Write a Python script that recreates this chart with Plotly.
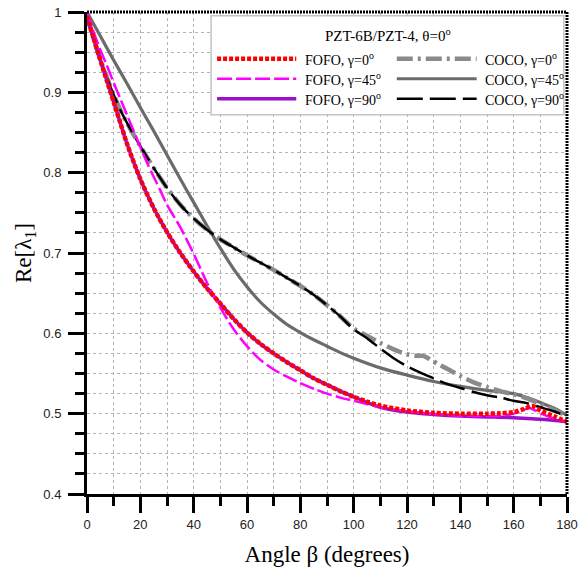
import plotly.graph_objects as go

# ---------------- data ----------------
fofo0_beta = [0, 2.5, 5, 7.5, 10, 12.5, 15, 20, 25, 30, 35, 40, 45, 50, 55, 60, 65, 70, 75, 80,
              85, 90, 95, 100, 105, 110, 120, 130, 140, 150, 155, 160, 164, 167, 170, 175, 180]
fofo0_val = [0.995, 0.967, 0.940, 0.914, 0.888, 0.862, 0.836, 0.792, 0.756, 0.726, 0.700, 0.677,
             0.656, 0.637, 0.618, 0.601, 0.587, 0.575, 0.564, 0.554, 0.544, 0.536, 0.528, 0.521, 0.515,
             0.510, 0.504, 0.501, 0.500, 0.500, 0.5005, 0.502, 0.506, 0.5095, 0.504, 0.497, 0.490]

fofo45_beta = [0, 2.5, 5, 7.5, 10, 12.5, 15, 17.5, 20, 22.5, 25, 27.5, 30, 35, 40, 45, 50, 55, 60, 65,
               70, 75, 80, 85, 90, 95, 100, 110, 120, 130, 140, 150, 157, 161, 164, 166, 168, 171, 175, 180]
fofo45_val = [1.0, 0.975, 0.953, 0.933, 0.912, 0.892, 0.872, 0.852, 0.832, 0.8125, 0.795, 0.778, 0.760,
              0.732, 0.699, 0.663, 0.632, 0.605, 0.584, 0.567, 0.555, 0.546, 0.538, 0.531, 0.525, 0.520,
              0.516, 0.508, 0.503, 0.4995, 0.4975, 0.497, 0.498, 0.501, 0.505, 0.507, 0.504, 0.499, 0.494, 0.490]

fofo90_beta = [0, 2.5, 5, 7.5, 10, 12.5, 15, 20, 25, 30, 35, 40, 45, 50, 55, 60, 65, 70, 75, 80,
               85, 90, 95, 100, 105, 110, 120, 130, 140, 150, 160, 170, 180]
fofo90_val = [0.995, 0.967, 0.940, 0.914, 0.888, 0.862, 0.836, 0.792, 0.756, 0.726, 0.700, 0.677,
              0.656, 0.637, 0.618, 0.601, 0.587, 0.575, 0.564, 0.554, 0.544, 0.536, 0.528, 0.521, 0.514,
              0.508, 0.502, 0.499, 0.497, 0.496, 0.495, 0.493, 0.490]

coco0_beta = [0, 2.5, 5, 7.5, 10, 12.5, 15, 20, 25, 30, 35, 40, 45, 50, 55, 60, 65, 70, 75, 80, 85, 90,
              95, 100, 105, 110, 115, 120, 123, 126, 129, 132, 135, 140, 145, 150, 155, 160, 165, 170, 175, 180]
coco0_val = [0.995, 0.966, 0.941, 0.918, 0.897, 0.878, 0.862, 0.833, 0.806, 0.781, 0.760, 0.743, 0.729,
             0.717, 0.707, 0.697, 0.688, 0.679, 0.669, 0.659, 0.648, 0.635, 0.621, 0.606, 0.597, 0.588,
             0.580, 0.574, 0.572, 0.572, 0.567, 0.561, 0.556, 0.547, 0.539, 0.533, 0.528, 0.524, 0.519,
             0.512, 0.505, 0.497]

coco45_beta = [0, 5, 10, 15, 20, 25, 30, 35, 40, 45, 50, 55, 60, 65, 70, 75, 80, 85, 90, 95, 100, 110,
               120, 130, 140, 150, 155, 160, 165, 170, 175, 180]
coco45_val = [1.0, 0.970, 0.940, 0.911, 0.881, 0.852, 0.822, 0.792, 0.763, 0.734, 0.706, 0.680, 0.658,
              0.639, 0.624, 0.611, 0.601, 0.592, 0.584, 0.576, 0.569, 0.557, 0.548, 0.540, 0.534, 0.529,
              0.527, 0.525, 0.520, 0.514, 0.507, 0.498]

coco90_beta = [0, 2.5, 5, 7.5, 10, 12.5, 15, 20, 25, 30, 35, 40, 45, 50, 55, 60, 65, 70, 75, 80, 85, 90,
               95, 100, 105, 110, 115, 120, 125, 130, 135, 140, 145, 150, 155, 160, 165, 170, 175, 180]
coco90_val = [0.995, 0.966, 0.941, 0.918, 0.897, 0.878, 0.862, 0.833, 0.806, 0.781, 0.760, 0.743, 0.729,
              0.717, 0.707, 0.697, 0.688, 0.679, 0.669, 0.659, 0.648, 0.635, 0.621, 0.605, 0.594, 0.581,
              0.569, 0.559, 0.551, 0.544, 0.537, 0.532, 0.527, 0.523, 0.520, 0.516, 0.513, 0.508, 0.503, 0.497]

legend_title = "PZT-6B/PZT-4, θ=0<sup>o</sup>"
series_names = ["FOFO, γ=0<sup>o</sup>", "FOFO, γ=45<sup>o</sup>", "FOFO, γ=90<sup>o</sup>",
                "COCO, γ=0<sup>o</sup>", "COCO, γ=45<sup>o</sup>", "COCO, γ=90<sup>o</sup>"]

x_title = "Angle β (degrees)"
y_title = "Re[λ<sub>1</sub>]"

# ---------------- styles ----------------
styles = {
    "fofo0": dict(color="#ff0000", width=4.5, dash="4px,2px"),
    "fofo45": dict(color="#ff00ff", width=2.5, dash="15px,4px"),
    "fofo90": dict(color="#9a10c8", width=3.5, dash="solid"),
    "coco0": dict(color="#8a8a8a", width=4.5, dash="16px,5px,3px,5px"),
    "coco45": dict(color="#6b6b6b", width=3.2, dash="solid"),
    "coco90": dict(color="#000000", width=2.5, dash="26px,7px"),
}

series = [
    ("coco45", coco45_beta, coco45_val, series_names[4]),
    ("coco0", coco0_beta, coco0_val, series_names[3]),
    ("coco90", coco90_beta, coco90_val, series_names[5]),
    ("fofo90", fofo90_beta, fofo90_val, series_names[2]),
    ("fofo45", fofo45_beta, fofo45_val, series_names[1]),
    ("fofo0", fofo0_beta, fofo0_val, series_names[0]),
]

fig = go.Figure()
for key, bx, by, name in series:
    fig.add_trace(go.Scatter(x=bx, y=by, mode="lines", name=name,
                             line=dict(**styles[key], shape="spline", smoothing=0.8),
                             showlegend=False))

serif = "Liberation Serif"
sans = "Liberation Sans"
gridc = "#b4b4b4"

fig.update_layout(
    width=587, height=567,
    margin=dict(l=87, r=20, t=12, b=73),
    plot_bgcolor="white", paper_bgcolor="white",
    showlegend=False,
    font=dict(family=serif),
    xaxis=dict(
        range=[0, 180], dtick=20, tick0=0, showline=True, linecolor="black", linewidth=3,
        ticks="outside", ticklen=16, tickwidth=3, tickcolor="black", automargin=False,
        showgrid=True, gridcolor=gridc, griddash="dot", gridwidth=1, zeroline=False,
        tickfont=dict(family=sans, size=13, color="#222"),
        minor=dict(dtick=10, ticks="outside", ticklen=9, tickwidth=3, tickcolor="black",
                   showgrid=True, gridcolor=gridc, griddash="dot", gridwidth=1),
        title=dict(text=x_title, font=dict(family=serif, size=23, color="black"), standoff=17),
    ),
    yaxis=dict(
        range=[0.4, 1.0], dtick=0.1, tick0=0.4, showline=True, linecolor="black", linewidth=3,
        ticks="outside", ticklen=16, tickwidth=3, tickcolor="black", automargin=False,
        showgrid=True, gridcolor=gridc, griddash="dot", gridwidth=1, zeroline=False,
        tickfont=dict(family=sans, size=13, color="#222"), ticklabelstandoff=4,
        minor=dict(dtick=0.025, ticks="outside", ticklen=9, tickwidth=3, tickcolor="black",
                   showgrid=True, gridcolor=gridc, griddash="dot", gridwidth=1),
        title=dict(text=y_title, font=dict(family=serif, size=23, color="black"), standoff=6),
    ),
)

# frame: dotted top and right borders
fig.add_shape(type="line", xref="paper", yref="paper", x0=0, x1=1, y0=1, y1=1,
              line=dict(color="black", width=3, dash="2px,1px"))
fig.add_shape(type="line", xref="paper", yref="paper", x0=1, x1=1, y0=0, y1=1,
              line=dict(color="black", width=3, dash="2px,1px"))

# ---------------- legend box (drawn manually to match the layout) ----------------
fig.add_shape(type="rect", xref="paper", yref="paper", x0=0.2585, x1=0.9935, y0=0.7868, y1=0.9923,
              line=dict(color="#c4c4c4", width=1.5), fillcolor="white", layer="above")
fig.add_annotation(xref="paper", yref="paper", x=0.6267, y=0.9529, text=legend_title, showarrow=False,
                   font=dict(family=serif, size=15, color="black"), xanchor="center", yanchor="middle")

row_y = [0.903, 0.8615, 0.820]
legend_layout = [("fofo0", 0, 0), ("fofo45", 0, 1), ("fofo90", 0, 2),
                 ("coco0", 1, 0), ("coco45", 1, 1), ("coco90", 1, 2)]
col_sample = [(0.271, 0.436), (0.6454, 0.8118)]
col_text = [0.450, 0.8243]
name_of = {"fofo0": series_names[0], "fofo45": series_names[1], "fofo90": series_names[2],
           "coco0": series_names[3], "coco45": series_names[4], "coco90": series_names[5]}
for key, c, r in legend_layout:
    x0, x1 = col_sample[c]
    fig.add_shape(type="line", xref="paper", yref="paper", x0=x0, x1=x1, y0=row_y[r], y1=row_y[r],
                  line=styles[key], layer="above")
    fig.add_annotation(xref="paper", yref="paper", x=col_text[c], y=row_y[r], text=name_of[key],
                       showarrow=False, xanchor="left", yanchor="middle",
                       font=dict(family=serif, size=14, color="black"))

fig.write_html("out.html")
